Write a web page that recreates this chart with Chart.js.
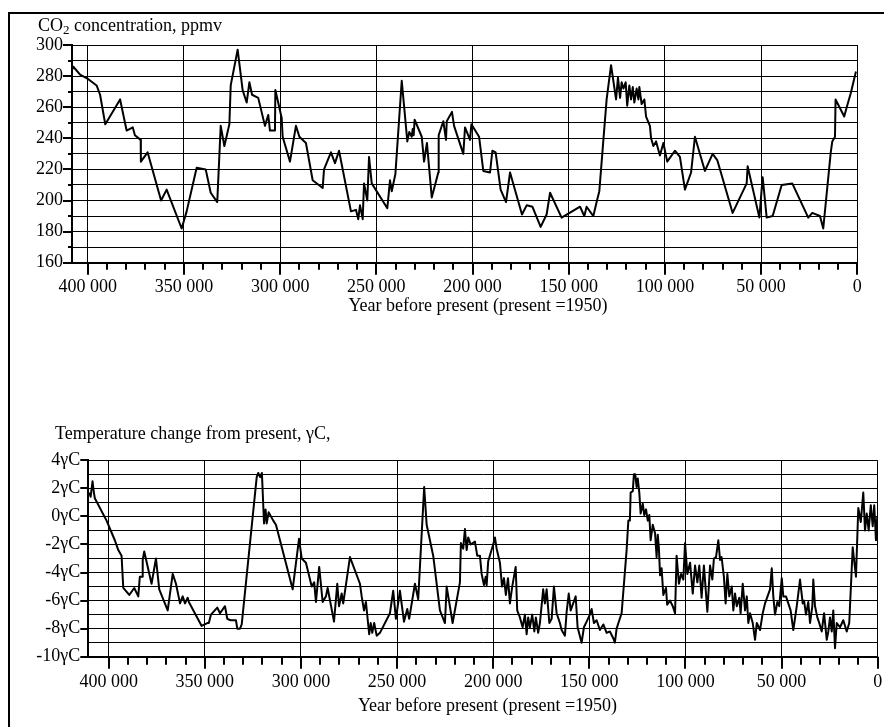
<!DOCTYPE html>
<html>
<head>
<meta charset="utf-8">
<script src="https://cdn.jsdelivr.net/npm/chart.js@4.4.1/dist/chart.umd.min.js"></script>
<style>
  body { margin: 0; background: #fff; width: 884px; height: 727px; overflow: hidden; position: relative;
         font-family: "Liberation Serif", "Times New Roman", serif; }
  .frame { position: absolute; left: 8px; top: 12px; width: 900px; height: 800px;
           border-left: 2px solid #000; border-top: 2px solid #000; }
  canvas { position: absolute; left: 0; }
  .lbl { position: absolute; font-size: 18px; line-height: 18px; white-space: nowrap; color: #000; z-index: 2; }
  .lbl sub { font-size: 13px; line-height: 0; vertical-align: -3px; }
  .center { transform: translateX(-50%); }
</style>
</head>
<body>
<div class="frame"></div>
<canvas id="co2" width="884" height="330" style="top:0"></canvas>
<canvas id="temp" width="884" height="287" style="top:440px"></canvas>
<div class="lbl" style="left:38px; top:16px">CO<sub>2</sub> concentration, ppmv</div>
<div class="lbl center" style="left:478px; top:296px">Year before present (present =1950)</div>
<div class="lbl" style="left:55px; top:424px">Temperature change from present, γC,</div>
<div class="lbl center" style="left:487.5px; top:696px">Year before present (present =1950)</div>
<script>
// CO2, ppmv, age in thousands of years before present
const co2AgeKa = [
  408.2, 407.5, 404.0, 399.7, 395.4, 393.6, 390.9, 383.2, 379.8, 376.6,
  375.5, 372.5, 372.4, 368.9, 361.9, 359.0, 351.2, 348.6, 343.4, 338.7,
  336.1, 332.7, 330.9, 329.0, 326.4, 325.7, 322.1, 319.5, 317.4, 316.0,
  314.6, 311.4, 307.9, 306.2, 305.3, 302.7, 302.5, 299.2, 298.7, 294.9,
  291.8, 290.0, 286.6, 283.1, 277.9, 277.2, 273.6, 271.5, 269.4, 263.2,
  260.6, 259.4, 258.5, 257.1, 256.4, 254.7, 253.8, 252.4, 244.3, 242.9,
  242.0, 240.1, 236.8, 233.9, 232.9, 231.6, 231.1, 230.6, 230.1, 226.4,
  225.2, 223.7, 221.2, 217.8, 217.6, 215.2, 213.8, 213.4, 210.7, 209.6,
  204.8, 203.9, 201.3, 200.6, 196.6, 194.4, 190.9, 189.7, 188.0, 185.4,
  182.6, 180.5, 174.3, 171.8, 168.9, 164.6, 161.5, 159.7, 153.7, 144.1,
  141.9, 140.7, 137.2, 135.5, 134.1, 132.3, 130.3, 128.0, 125.4, 124.4,
  123.3, 122.5, 121.6, 120.4, 119.6, 118.5, 117.6, 116.7, 115.9, 114.7,
  113.8, 113.3, 112.1, 110.7, 109.8, 107.8, 107.2, 106.0, 104.6, 102.6,
  100.8, 98.8, 94.8, 92.2, 89.6, 86.4, 84.4, 79.2, 75.2, 72.8,
  64.8, 57.5, 57.0, 50.9, 49.2, 47.1, 44.0, 39.3, 33.8, 25.5,
  23.4, 19.4, 17.7, 13.8, 13.0, 11.6, 11.3, 6.8, 5.5, 3.4,
  0.7
];
const co2Ppm = [
  284, 286, 281, 278, 274, 268, 249, 265, 245, 247,
  242, 239, 225, 231, 200, 207, 182, 193, 221, 220,
  205, 199, 248, 235, 249, 274, 297, 271, 263, 276,
  268, 266, 248, 255, 245, 245, 271, 253, 241, 225,
  248, 241, 237, 213, 208, 220, 231, 224, 232, 193,
  194, 188, 197, 188, 211, 200, 228, 211, 195, 213,
  206, 217, 277, 238, 244, 241, 246, 242, 252, 241,
  225, 237, 202, 218, 242, 251, 239, 251, 257, 248,
  230, 247, 239, 249, 241, 219, 218, 232, 231, 207,
  199, 218, 191, 197, 196, 183, 191, 205, 189, 196,
  190, 196, 190, 199, 206, 234, 265, 287, 265, 279,
  266, 276, 272, 276, 261, 274, 265, 273, 263, 272,
  265, 273, 262, 265, 254, 248, 240, 235, 238, 229,
  237, 225, 232, 228, 207, 218, 241, 219, 230, 226,
  192, 211, 222, 189, 215, 189, 190, 210, 211, 189,
  192, 190, 182, 231, 238, 241, 265, 254, 260, 269,
  283
];

// temperature change from present, degrees
const tempAgeKa = [
  410.1, 409.4, 408.4, 407.7, 407.2, 401.1, 396.8, 395.0, 393.3, 392.4,
  389.3, 386.7, 384.6, 383.8, 382.6, 382.3, 381.5, 377.7, 375.4, 373.7,
  369.3, 366.7, 365.0, 362.9, 361.5, 360.3, 358.9, 358.3, 351.7, 348.7,
  347.9, 346.8, 343.5, 342.1, 339.5, 338.3, 336.6, 335.2, 333.8, 333.1,
  331.7, 330.8, 323.0, 322.2, 321.2, 320.3, 319.2, 318.4, 317.8, 316.8,
  314.4, 313.0, 310.9, 304.3, 301.0, 299.6, 297.4, 294.4, 293.1, 292.2,
  290.5, 288.7, 287.0, 286.1, 282.8, 281.1, 280.2, 278.8, 278.0, 274.5,
  269.3, 268.4, 267.2, 266.2, 264.5, 263.7, 262.9, 261.9, 260.6, 258.9,
  253.7, 252.0, 250.6, 248.5, 246.4, 244.7, 243.7, 240.7, 239.0, 235.9,
  234.6, 231.2, 227.7, 225.1, 224.2, 221.1, 217.3, 216.8, 215.6, 214.7,
  213.8, 213.0, 211.7, 209.5, 208.3, 206.9, 206.0, 204.8, 203.9, 203.4,
  202.6, 200.0, 199.1, 198.2, 196.5, 195.4, 194.4, 193.4, 192.3, 191.3,
  190.1, 188.3, 187.5, 186.1, 184.7, 183.5, 182.6, 181.8, 180.9, 179.7,
  178.6, 177.8, 176.6, 175.7, 174.0, 173.1, 172.2, 170.8, 169.6, 168.4,
  167.0, 165.3, 164.4, 162.7, 161.8, 160.7, 159.7, 158.4, 157.1, 156.1,
  154.0, 152.8, 151.4, 149.7, 148.8, 147.6, 146.2, 144.5, 142.7, 141.0,
  139.3, 137.5, 136.7, 135.8, 134.4, 133.2, 130.6, 129.7, 128.9, 128.5,
  127.4, 126.8, 126.1, 125.4, 124.8, 124.0, 123.3, 122.2, 121.4, 120.5,
  119.6, 118.8, 118.1, 117.0, 115.8, 115.0, 114.4, 113.8, 113.2, 112.4,
  111.5, 110.1, 109.5, 108.0, 106.6, 105.4, 104.6, 103.4, 102.3, 101.1,
  100.2, 99.0, 97.6, 96.2, 95.0, 93.8, 92.8, 91.6, 90.4, 88.6,
  87.2, 86.0, 85.2, 84.1, 82.9, 82.0, 81.2, 80.0, 79.1, 78.2,
  77.2, 75.9, 75.1, 74.2, 73.3, 72.0, 71.3, 70.2, 69.0, 68.1,
  67.3, 66.4, 65.0, 63.8, 62.9, 61.2, 59.8, 58.6, 56.0, 55.1,
  54.3, 53.4, 52.2, 51.2, 49.9, 49.1, 47.7, 46.5, 45.3, 43.9,
  42.1, 40.4, 39.0, 38.3, 37.3, 36.1, 35.2, 34.0, 33.5, 32.6,
  31.4, 30.4, 29.1, 27.9, 26.5, 25.7, 24.8, 23.9, 23.1, 22.2,
  21.3, 19.6, 17.9, 16.1, 14.8, 13.0, 11.3, 10.1, 8.8, 7.5,
  6.6, 5.7, 4.7, 3.6, 2.6, 1.8, 0.9, 0.2
];
const tempDelta = [
  1.7, 1.4, 2.5, 1.7, 1.3, -0.3, -1.7, -2.4, -2.8, -5.1,
  -5.6, -5.1, -5.7, -4.3, -4.3, -3.1, -2.5, -4.8, -3.0, -5.2,
  -6.7, -4.1, -4.8, -6.2, -5.7, -6.2, -5.8, -6.1, -7.8, -7.6,
  -7.6, -7.0, -6.5, -6.9, -6.4, -7.3, -7.4, -7.4, -7.4, -8.0,
  -8.0, -7.7, 2.8, 3.1, 2.8, 3.1, -0.5, 0.5, -0.5, 0.3,
  -0.3, -0.6, -1.7, -5.2, -1.6, -3.0, -3.3, -5.0, -4.7, -6.1,
  -3.6, -6.1, -5.7, -5.1, -7.5, -4.8, -6.4, -5.5, -6.2, -2.9,
  -4.8, -5.7, -6.7, -6.1, -8.4, -7.6, -8.3, -7.6, -8.5, -8.3,
  -6.9, -5.3, -7.3, -5.3, -7.5, -6.6, -7.3, -4.8, -5.9, 2.1,
  -0.6, -2.8, -6.7, -7.6, -5.0, -7.6, -4.7, -1.9, -2.3, -0.9,
  -2.4, -1.5, -2.0, -1.8, -2.8, -2.8, -4.1, -4.9, -4.3, -4.9,
  -3.2, -2.0, -1.5, -2.3, -3.3, -5.0, -4.4, -5.6, -4.4, -6.2,
  -5.0, -3.6, -6.7, -7.2, -7.9, -7.0, -8.4, -7.2, -7.9, -7.0,
  -8.2, -7.2, -8.3, -7.6, -5.2, -6.2, -5.2, -7.6, -7.3, -5.0,
  -6.9, -7.6, -8.1, -8.5, -6.8, -5.5, -6.7, -6.2, -5.7, -7.9,
  -9.0, -7.9, -7.5, -7.0, -6.6, -7.6, -7.4, -8.1, -7.7, -8.3,
  -8.2, -8.7, -9.0, -8.0, -7.4, -6.9, -2.4, -0.3, -0.3, 1.7,
  1.8, 3.0, 3.0, 2.1, 2.7, 1.7, 0.2, 0.9, 0.1, 0.5,
  -0.3, 0.1, -1.7, -0.6, -1.2, -2.9, -1.3, -2.3, -4.2, -3.7,
  -5.6, -5.1, -6.3, -6.0, -6.4, -6.9, -2.8, -4.8, -4.1, -4.5,
  -1.9, -4.1, -3.3, -5.5, -3.5, -4.7, -3.5, -5.8, -3.5, -6.8,
  -3.5, -4.5, -3.0, -2.9, -1.7, -3.1, -2.9, -4.3, -6.2, -4.1,
  -5.7, -5.0, -6.7, -5.5, -6.4, -5.8, -6.9, -4.8, -6.7, -5.7,
  -7.6, -6.9, -7.6, -8.8, -7.6, -8.1, -6.9, -6.2, -5.2, -3.7,
  -5.7, -7.0, -6.1, -6.4, -4.4, -5.7, -5.7, -6.2, -6.7, -8.1,
  -6.4, -4.5, -6.2, -6.0, -7.0, -6.1, -7.6, -6.4, -4.5, -6.4,
  -7.2, -7.6, -8.2, -6.9, -8.8, -8.2, -7.2, -8.2, -6.7, -9.4,
  -7.6, -7.9, -7.4, -8.2, -7.6, -2.2, -4.3, 0.6, -0.4, 1.7,
  -1.0, 0.2, -1.0, 0.8, -0.7, 0.8, -1.7, 0.0
];

// year axis: minor tick every 10 000, label every 50 000, last tick 400 000
const yearMinorStep = 10000;
const yearMajorStep = 50000;
const yearLastTick = 400000;

Chart.defaults.font.family = '"Liberation Serif", "Times New Roman", serif';
Chart.defaults.font.size = 18;
Chart.defaults.color = '#000';

function yearLabel(v) {
  if (v % yearMajorStep !== 0) return '';
  return v === 0 ? '0' : (v / 1000) + ' 000';
}

function yearTicks(scale) {
  const ticks = [];
  for (let v = 0; v <= yearLastTick; v += yearMinorStep) ticks.push({ value: v });
  scale.ticks = ticks;
}

// short/long tick marks outside the axes
const tickMarks = {
  id: 'tickMarks',
  afterDraw(chart, args, opts) {
    const ctx = chart.ctx;
    const xs = chart.scales.x, ys = chart.scales.y;
    ctx.save();
    ctx.strokeStyle = '#000';
    ctx.lineWidth = 2;
    xs.ticks.forEach(t => {
      const p = Math.round(xs.getPixelForValue(t.value));
      const len = t.value % opts.x.major === 0 ? opts.x.majorLen : opts.x.minorLen;
      ctx.beginPath(); ctx.moveTo(p, xs.top); ctx.lineTo(p, xs.top + len); ctx.stroke();
    });
    ys.ticks.forEach(t => {
      const p = Math.round(ys.getPixelForValue(t.value));
      const len = Math.round(t.value) % opts.y.major === 0 ? opts.y.majorLen : opts.y.minorLen;
      if (!len) return;
      ctx.beginPath(); ctx.moveTo(ys.right - len, p); ctx.lineTo(ys.right, p); ctx.stroke();
    });
    ctx.restore();
  }
};

function drawPanel(id, ageKa, values, o) {
  const points = ageKa.map((a, i) => ({ x: a * 1000, y: values[i] }));
  return new Chart(document.getElementById(id), {
    type: 'line',
    data: {
      datasets: [{
        data: points,
        borderColor: '#000',
        borderWidth: 2,
        borderJoinStyle: 'round',
        pointRadius: 0,
        tension: 0,
        fill: false
      }]
    },
    options: {
      responsive: false,
      animation: false,
      devicePixelRatio: 1,
      layout: { padding: o.padding },
      plugins: {
        legend: { display: false },
        tooltip: { enabled: false },
        tickMarks: o.marks
      },
      scales: {
        x: {
          type: 'linear',
          reverse: true,
          min: 0,
          max: o.maxYear,
          afterBuildTicks: yearTicks,
          afterFit: s => { s.height = o.xHeight; },
          ticks: { autoSkip: false, maxRotation: 0, padding: o.xPad, callback: yearLabel },
          grid: {
            drawTicks: false,
            lineWidth: 1,
            color: c => (c.tick && c.tick.value % yearMajorStep === 0) ? '#000' : 'rgba(0,0,0,0)'
          },
          border: { color: '#000', width: 2 }
        },
        y: {
          min: o.yMin,
          max: o.yMax,
          afterFit: s => { s.width = o.yWidth; },
          ticks: { stepSize: o.yStep, autoSkip: false, padding: o.yPad, callback: o.yLabel },
          grid: { drawTicks: false, color: '#000', lineWidth: 1 },
          border: { color: '#000', width: 2 }
        }
      }
    },
    plugins: [tickMarks]
  });
}

drawPanel('co2', co2AgeKa, co2Ppm, {
  padding: { top: 45, left: 0, right: 26.7, bottom: 0 },
  maxYear: 408200,
  xHeight: 67.3, xPad: 13.5,
  yMin: 160, yMax: 300, yStep: 10, yWidth: 72, yPad: 9,
  yLabel: v => v % 20 === 0 ? String(v) : '',
  marks: { x: { major: 50000, majorLen: 12, minorLen: 7 }, y: { major: 20, majorLen: 9, minorLen: 4 } }
});

drawPanel('temp', tempAgeKa, tempDelta, {
  padding: { top: 20.3, left: 0, right: 6.3, bottom: 0 },
  maxYear: 410600,
  xHeight: 70.3, xPad: 14.5,
  yMin: -10, yMax: 4, yStep: 1, yWidth: 88.3, yPad: 8,
  yLabel: v => v % 2 === 0 ? v + 'γC' : '',
  marks: { x: { major: 50000, majorLen: 12, minorLen: 8 }, y: { major: 2, majorLen: 8, minorLen: 0 } }
});
</script>
</body>
</html>
